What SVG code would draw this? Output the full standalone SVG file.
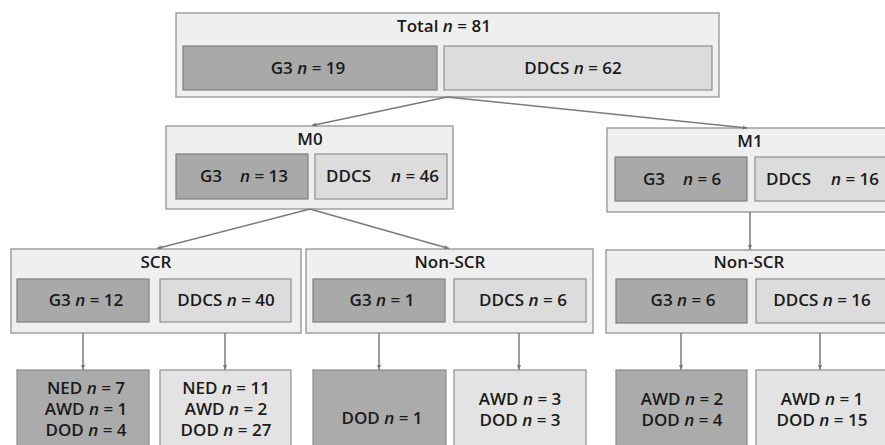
<svg xmlns="http://www.w3.org/2000/svg" width="885" height="445" viewBox="0 0 885 445">
<defs>
<marker id="ah" viewBox="0 0 10 10" refX="9" refY="5" markerWidth="5" markerHeight="5" orient="auto" markerUnits="userSpaceOnUse">
<path d="M0,1 L10,5 L0,9 z" fill="#777"/>
</marker>
<style>
.outer{fill:#efefef;stroke:#8a8a8a;stroke-width:1.2}
.dark{fill:#a9a9a9;stroke:#7f7f7f;stroke-width:1.2}
.light{fill:#dcdcdc;stroke:#8f8f8f;stroke-width:1.2}
.ldark{fill:#ababab;stroke:#8a8a8a;stroke-width:1.2}
.llight{fill:#e3e3e3;stroke:#8f8f8f;stroke-width:1.2}
text{font-family:"Open Sans","Liberation Sans",sans-serif;font-weight:600;font-size:17px;fill:#1a1a1a}
.c{text-anchor:middle}
.i{font-style:italic}
.conn line{stroke:#7a7a7a;stroke-width:1.5;marker-end:url(#ah)}
</style>
</defs>
<rect width="885" height="445" fill="#ffffff"/>

<g id="total">
<rect class="outer" x="176" y="13" width="543" height="84"/>
<text class="c" x="444" y="32">Total <tspan class="i">n</tspan> = 81</text>
<rect class="dark" x="183" y="46" width="254" height="44"/>
<text class="c" x="308" y="74">G3 <tspan class="i">n</tspan> = 19</text>
<rect class="light" x="444" y="46" width="268" height="44"/>
<text class="c" x="573" y="74">DDCS <tspan class="i">n</tspan> = 62</text>
</g>

<g id="m0">
<rect class="outer" x="166" y="126" width="287" height="83"/>
<text class="c" x="310" y="145">M0</text>
<rect class="dark" x="176" y="154" width="132" height="45"/>
<text x="200" y="182">G3</text><text x="240" y="182"><tspan class="i">n</tspan> = 13</text>
<rect class="light" x="315" y="154" width="132" height="45"/>
<text x="326" y="182">DDCS</text><text x="391" y="182"><tspan class="i">n</tspan> = 46</text>
</g>

<g id="m1">
<rect class="outer" x="607" y="128" width="290" height="84"/>
<text class="c" x="750" y="147">M1</text>
<rect class="dark" x="615" y="157" width="132" height="44"/>
<text x="643" y="185">G3</text><text x="683" y="185"><tspan class="i">n</tspan> = 6</text>
<rect class="light" x="755" y="157" width="140" height="44"/>
<text x="766" y="185">DDCS</text><text x="831" y="185"><tspan class="i">n</tspan> = 16</text>
</g>

<g id="scr">
<rect class="outer" x="11" y="249" width="290" height="84"/>
<text class="c" x="156" y="268">SCR</text>
<rect class="dark" x="17" y="279" width="132" height="43"/>
<text class="c" x="86" y="306">G3 <tspan class="i">n</tspan> = 12</text>
<rect class="light" x="160" y="279" width="131" height="43"/>
<text class="c" x="226" y="306">DDCS <tspan class="i">n</tspan> = 40</text>
</g>

<g id="nonscr-m0">
<rect class="outer" x="306" y="249" width="287" height="84"/>
<text class="c" x="450" y="268">Non-SCR</text>
<rect class="dark" x="313" y="279" width="132" height="43"/>
<text class="c" x="382" y="306">G3 <tspan class="i">n</tspan> = 1</text>
<rect class="light" x="454" y="279" width="132" height="43"/>
<text class="c" x="523" y="306">DDCS <tspan class="i">n</tspan> = 6</text>
</g>

<g id="nonscr-m1">
<rect class="outer" x="606" y="250" width="290" height="83"/>
<text class="c" x="749" y="268">Non-SCR</text>
<rect class="dark" x="616" y="279" width="131" height="44"/>
<text class="c" x="683" y="306">G3 <tspan class="i">n</tspan> = 6</text>
<rect class="light" x="756" y="279" width="140" height="44"/>
<text class="c" x="822" y="306">DDCS <tspan class="i">n</tspan> = 16</text>
</g>

<g id="out1">
<rect class="ldark" x="17" y="370" width="132" height="80"/>
<text class="c" x="86" y="394">NED <tspan class="i">n</tspan> = 7</text>
<text class="c" x="86" y="415">AWD <tspan class="i">n</tspan> = 1</text>
<text class="c" x="86" y="436">DOD <tspan class="i">n</tspan> = 4</text>
</g>
<g id="out2">
<rect class="llight" x="160" y="370" width="131" height="80"/>
<text class="c" x="226" y="394">NED <tspan class="i">n</tspan> = 11</text>
<text class="c" x="226" y="415">AWD <tspan class="i">n</tspan> = 2</text>
<text class="c" x="226" y="436">DOD <tspan class="i">n</tspan> = 27</text>
</g>
<g id="out3">
<rect class="ldark" x="313" y="370" width="133" height="80"/>
<text class="c" x="382" y="424">DOD <tspan class="i">n</tspan> = 1</text>
</g>
<g id="out4">
<rect class="llight" x="454" y="370" width="132" height="80"/>
<text class="c" x="520" y="405">AWD <tspan class="i">n</tspan> = 3</text>
<text class="c" x="520" y="426">DOD <tspan class="i">n</tspan> = 3</text>
</g>
<g id="out5">
<rect class="ldark" x="616" y="370" width="131" height="80"/>
<text class="c" x="682" y="405">AWD <tspan class="i">n</tspan> = 2</text>
<text class="c" x="682" y="426">DOD <tspan class="i">n</tspan> = 4</text>
</g>
<g id="out6">
<rect class="llight" x="756" y="370" width="140" height="80"/>
<text class="c" x="822" y="405">AWD <tspan class="i">n</tspan> = 1</text>
<text class="c" x="822" y="426">DOD <tspan class="i">n</tspan> = 15</text>
</g>

<g id="connectors" class="conn">
<line x1="447" y1="97" x2="312" y2="125.5"/>
<line x1="447" y1="97" x2="747" y2="128"/>
<line x1="310" y1="209" x2="157" y2="248.5"/>
<line x1="310" y1="209" x2="449" y2="248.5"/>
<line x1="750" y1="212" x2="750" y2="249.5"/>
<line x1="83" y1="333" x2="83" y2="369.5"/>
<line x1="225" y1="333" x2="225" y2="369.5"/>
<line x1="379" y1="333" x2="379" y2="369.5"/>
<line x1="519" y1="333" x2="519" y2="369.5"/>
<line x1="681" y1="333" x2="681" y2="369.5"/>
<line x1="820" y1="333" x2="820" y2="369.5"/>
</g>
</svg>
